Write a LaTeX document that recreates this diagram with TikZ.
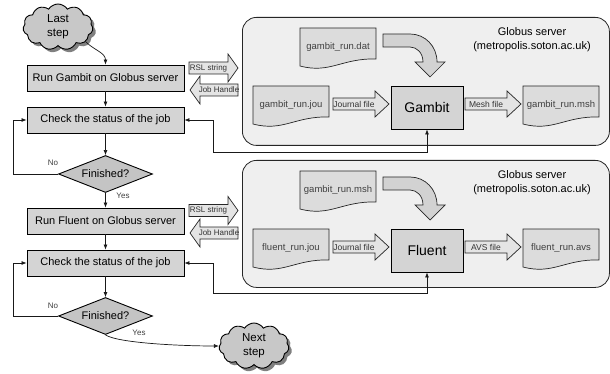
\documentclass[tikz,border=0pt]{standalone}
\usepackage{fontspec}
\setmainfont{Liberation Sans}
\usetikzlibrary{shapes.geometric,shapes.symbols,arrows.meta,shadows}
\definecolor{boxfill}{HTML}{D4D4D4}
\definecolor{serverfill}{HTML}{EFEFEF}
\definecolor{docfill}{HTML}{DCDCDC}
\definecolor{diafill}{HTML}{C4C4C4}
\definecolor{cloudfill}{HTML}{C8C8C8}
\definecolor{arrfill}{HTML}{E4E4E4}
\definecolor{bigarrfill}{HTML}{D2D2D2}
\newcommand\fs[1]{\fontsize{#1pt}{14pt}\selectfont}
\tikzset{
  fbox/.style={draw=black, line width=0.9pt, fill=boxfill, minimum width=157pt, minimum height=26pt, inner sep=0pt, font=\fs{11}},
  diabox/.style={diamond, draw=black, line width=0.9pt, fill=diafill, minimum width=94pt, minimum height=37pt, aspect=2.5, inner sep=0pt, font=\fs{11}},
  cloudnode/.style={cloud, cloud puffs=11, cloud puff arc=115, aspect=1.5, draw=black, line width=0.9pt, fill=cloudfill, minimum width=70pt, minimum height=46pt, inner sep=0pt, align=center, font=\fs{11.5}, drop shadow={shadow xshift=3pt, shadow yshift=-3pt, fill=black!50, opacity=1}},
  serverbox/.style={draw=black!85, line width=0.8pt, fill=serverfill, rounded corners=14pt, anchor=north west, inner sep=0pt},
  title/.style={align=center, font=\fs{11}, inner sep=0pt},
  procbox/.style={draw=black, line width=0.9pt, fill=boxfill, minimum width=72pt, minimum height=43pt, inner sep=0pt, font=\fs{14}},
  docshape/.style={draw=black!85, line width=0.7pt, fill=docfill},
  doctext/.style={font=\fs{9.5}, text=black!75, inner sep=0pt},
  blockarrow/.style={draw=black!85, line width=0.7pt, fill=arrfill},
  arrowtext/.style={text=black!80, inner sep=0pt},
  bigarrow/.style={draw=black!85, line width=0.7pt, fill=bigarrfill},
  flow/.style={draw=black!90, line width=0.7pt, -{Latex[length=5pt,width=4pt]}},
  flowboth/.style={draw=black!90, line width=0.7pt, {Latex[length=5pt,width=4pt]}-{Latex[length=5pt,width=4pt]}},
  lbl/.style={font=\fs{8}, text=black!75, inner sep=0pt}
}
% document shape: name, left x, top y, text
\newcommand\docnode[4]{%
  \begin{scope}[shift={(#2,#3)}]
    \path[docshape] (0,0) -- (76,0) -- (76,31) .. controls (42,30) and (30,46) .. (0,38) -- cycle;
    \node[doctext] (#1) at (38,19) {#4};
  \end{scope}}
% block arrow: name, tail x, head base x, tip x, centre y, half body, half head, text
\newcommand\blockarr[8]{%
  \path[blockarrow] (#2,#5-#6) -- (#3,#5-#6) -- (#3,#5-#7) -- (#4,#5) -- (#3,#5+#7) -- (#3,#5+#6) -- (#2,#5+#6) -- cycle;
  \node[arrowtext] (#1) at ({(#2+#3)/2},#5) {#8};}
% big curved arrow with vertical offset
\newcommand\bigcurve[1]{%
  \begin{scope}[shift={(0,#1)}]
    \path[bigarrow] (383,34) -- (410,34) .. controls (425,34) and (437,46) .. (437,62) -- (445,62) -- (430,77) -- (415,62) -- (423,62) .. controls (423,53) and (417,47) .. (410,47) -- (383,47) -- cycle;
  \end{scope}}
\begin{document}
\begin{tikzpicture}[x=1pt, y=-1pt]
\useasboundingbox (0,0) rectangle (610,374);
\fill[white] (0,0) rectangle (610,374);

% ---------- server boxes ----------
\node[serverbox, minimum width=367pt, minimum height=128pt] (sv1) at (242,17) {};
\node[serverbox, minimum width=367pt, minimum height=127pt] (sv2) at (242,160) {};
\node[title] (t1) at (532,40) {Globus server\\(metropolis.soton.ac.uk)};
\node[title] (t2) at (532,183) {Globus server\\(metropolis.soton.ac.uk)};

% ---------- server 1 content ----------
\docnode{dat1}{300}{28}{gambit\_run.dat}
\bigcurve{0}
\docnode{jou1}{253}{86}{gambit\_run.jou}
\docnode{msh1}{523}{86}{gambit\_run.msh}
\node[procbox] (gambit) at (427,107.5) {Gambit};
\blockarr{jf1}{333}{375}{389}{104}{6}{13}{\fs{8.5}Journal file}
\blockarr{mf1}{465}{507}{521}{104}{6}{13}{\fs{8.5}Mesh file}

% ---------- server 2 content ----------
\docnode{msh2}{300}{171}{gambit\_run.msh}
\bigcurve{143}
\docnode{jou2}{253}{229}{fluent\_run.jou}
\docnode{avs2}{523}{229}{fluent\_run.avs}
\node[procbox] (fluent) at (427,250.5) {Fluent};
\blockarr{jf2}{333}{375}{389}{247}{6}{13}{\fs{8.5}Journal file}
\blockarr{af2}{465}{507}{521}{247}{6}{13}{\fs{8.5}AVS file}

% ---------- RSL / Job handle arrows ----------
\blockarr{rsl1}{189}{228}{238}{68}{6}{14}{\fs{8}RSL string}
\blockarr{jh1}{238}{200}{190}{90}{6}{14}{\fs{8}Job Handle}
\blockarr{rsl2}{189}{228}{238}{210.5}{6}{14}{\fs{8}RSL string}
\blockarr{jh2}{238}{200}{190}{233}{6}{14}{\fs{8}Job Handle}

% ---------- flowchart ----------
\node[cloudnode] (last) at (58,27) {Last\\step};
\node[fbox] (rg) at (105.5,78) {Run Gambit on Globus server};
\node[fbox] (cs1) at (105.5,120) {Check the status of the job};
\node[diabox] (d1) at (105.5,174) {Finished?};
\node[fbox] (rf) at (105.5,221) {Run Fluent on Globus server};
\node[fbox] (cs2) at (105.5,263) {Check the status of the job};
\node[diabox] (d2) at (105.5,316) {Finished?};
\node[cloudnode] (next) at (254,346) {Next\\step};

\draw[flow] (last.-28) to[out=-45, in=90] (rg.north);
\draw[flow] (rg) -- (cs1);
\draw[flow] (cs1) -- (d1);
\draw[flow] (d1.west) -- ++(-44.5,0) |- (cs1.west);
\draw[flow] (d1.south) -- (rf.north);
\draw[flow] (rf) -- (cs2);
\draw[flow] (cs2) -- (d2);
\draw[flow] (d2.west) -- ++(-44.5,0) |- (cs2.west);
\draw[flow] (d2.south) .. controls (118,343) and (180,346) .. (next.west);

\draw[flowboth] (cs1.east) -- ++(29,0) -- ++(0,32) -| (gambit.south);
\draw[flowboth] (cs2.east) -- ++(29,0) -- ++(0,30) -| (fluent.south);

\node[lbl] (no1) at (53,163) {No};
\node[lbl] (yes1) at (123,196) {Yes};
\node[lbl] (no2) at (53,306) {No};
\node[lbl] (yes2) at (139,333) {Yes};
\end{tikzpicture}
\end{document}
